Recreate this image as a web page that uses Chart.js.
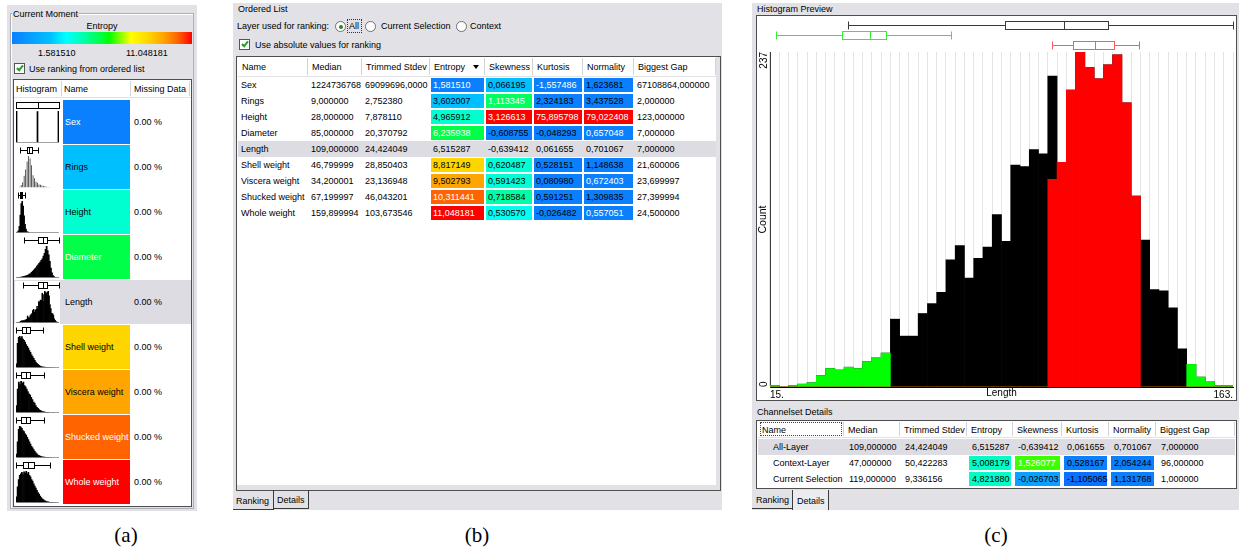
<!DOCTYPE html>
<html>
<head>
<meta charset="utf-8">
<title>Channel statistics</title>
<script src="https://cdn.jsdelivr.net/npm/chart.js@4.4.1/dist/chart.umd.min.js"></script>
<style>
  * { box-sizing: border-box; }
  html, body { margin: 0; padding: 0; }
  body { width: 1239px; height: 550px; position: relative; overflow: hidden; background: #fff;
         font-family: "Liberation Sans", Arial, sans-serif; font-size: 9px; color: #000; }
  .a { position: absolute; }
  .t { position: absolute; white-space: nowrap; height: 12px; line-height: 12px; }
  .cap { position: absolute; top: 522px; width: 60px; height: 26px; line-height: 26px; text-align: center;
         font-family: "Liberation Serif", "Times New Roman", serif; font-size: 21px; }
  canvas { position: absolute; display: block; background: #fff; }
</style>
</head>
<body>
<script>
// ---------------- Ordered List (ranking of channels) ----------------
const rankNames     = ['Sex', 'Rings', 'Height', 'Diameter', 'Length', 'Shell weight', 'Viscera weight', 'Shucked weight', 'Whole weight'];
const rankMedian    = ['1224736768', '9,000000', '28,000000', '85,000000', '109,000000', '46,799999', '34,200001', '67,199997', '159,899994'];
const rankStdev     = ['69099696,0000', '2,752380', '7,878110', '20,370792', '24,424049', '28,850403', '23,136948', '46,043201', '103,673546'];
const rankEntropy   = ['1,581510', '3,602007', '4,965912', '6,235938', '6,515287', '8,817149', '9,502793', '10,311441', '11,048181'];
const rankSkewness  = ['0,066195', '1,113345', '3,126613', '-0,608755', '-0,639412', '0,620487', '0,591423', '0,718584', '0,530570'];
const rankKurtosis  = ['-1,557486', '2,324183', '75,895798', '-0,048293', '0,061655', '0,528151', '0,080980', '0,591251', '-0,026482'];
const rankNormality = ['1,623681', '3,437528', '79,022408', '0,657048', '0,701067', '1,148638', '0,672403', '1,309835', '0,557051'];
const rankGap       = ['67108864,000000', '2,000000', '123,000000', '7,000000', '7,000000', '21,600006', '23,699997', '27,399994', '24,500000'];
const rankMissing   = ['0.00 %', '0.00 %', '0.00 %', '0.00 %', '0.00 %', '0.00 %', '0.00 %', '0.00 %', '0.00 %'];

// colour-coded cells (null = layer row without colouring)
const entropyFill = ['#0a80ff', '#00bfff', '#00ffd0', '#00ff48', null, '#ffd500', '#ffa500', '#ff6400', '#ff0000'];
const entropyInk  = ['#fff', '#000', '#000', '#fff', '#000', '#000', '#000', '#fff', '#fff'];
const skewFill    = ['#00c0ff', '#00ff60', '#ff0000', '#0a80ff', null, '#00ffd4', '#00ffd4', '#00ffa4', '#00fff0'];
const skewInk     = ['#000', '#fff', '#fff', '#000', '#000', '#000', '#000', '#000', '#000'];
const kurtFill    = ['#0a80ff', '#0a80ff', '#ff0000', '#0a80ff', null, '#0a80ff', '#0a80ff', '#0a80ff', '#0a80ff'];
const kurtInk     = ['#fff', '#000', '#fff', '#000', '#000', '#000', '#000', '#000', '#000'];
const normFill    = ['#0a80ff', '#0a80ff', '#ff0000', '#0a80ff', null, '#0a80ff', '#0a80ff', '#0a80ff', '#0a80ff'];
const normInk     = ['#000', '#000', '#fff', '#fff', '#000', '#000', '#fff', '#000', '#fff'];
const selectedRow = 4;

const entropyScaleLabels = ['1.581510', '11.048181'];

// ---------------- Channelset Details ----------------
const detailNames     = ['All-Layer', 'Context-Layer', 'Current Selection'];
const detailMedian    = ['109,000000', '47,000000', '119,000000'];
const detailStdev     = ['24,424049', '50,422283', '9,336156'];
const detailEntropy   = ['6,515287', '5,008179', '4,821880'];
const detailSkewness  = ['-0,639412', '1,526077', '-0,026703'];
const detailKurtosis  = ['0,061655', '0,528167', '-1,105065'];
const detailNormality = ['0,701067', '2,054244', '1,131768'];
const detailGap       = ['7,000000', '96,000000', '1,000000'];
const detailEntropyFill = [null, '#00ffc8', '#00ffc8'];
const detailSkewFill    = [null, '#3cff00', '#0aa0ff'];
const detailSkewInk     = ['#000', '#fff', '#000'];
const detailKurtFill    = [null, '#0a80ff', '#0a70ff'];
const detailNormFill    = [null, '#0a80ff', '#0a80ff'];

const tableHeaders = ['Name', 'Median', 'Trimmed Stdev', 'Entropy', 'Skewness', 'Kurtosis', 'Normality', 'Biggest Gap'];

// ---------------- Length histogram (50 bins) ----------------
const lengthRange = [15, 163];
const countTicks = [0, 237];
const lengthAll = [1, 0, 1, 2, 3, 8, 13, 12, 14, 13, 18, 21, 24, 48, 36, 36, 52, 59, 67, 90,
                   100, 77, 91, 99, 122, 103, 157, 156, 168, 165, 220, 159, 210, 237, 226, 218, 228, 235, 201, 135,
                   104, 69, 68, 56, 27, 16, 7, 4, 1, 1];
const lengthContext = [1, 0, 1, 2, 3, 8, 13, 12, 14, 13, 18, 21, 24, 0, 0, 0, 0, 0, 0, 0,
                       0, 0, 0, 0, 0, 0, 0, 0, 0, 0, 0, 0, 0, 0, 0, 0, 0, 0, 0, 0,
                       0, 0, 0, 0, 0, 16, 7, 4, 1, 1];
const lengthSelection = [0, 0, 0, 0, 0, 0, 0, 0, 0, 0, 0, 0, 0, 0, 0, 0, 0, 0, 0, 0,
                         0, 0, 0, 0, 0, 0, 0, 0, 0, 0, 147, 159, 210, 237, 226, 218, 228, 235, 201, 135,
                         0, 0, 0, 0, 0, 0, 0, 0, 0, 0];
// five-number summaries: lower whisker, Q1, median, Q3, upper whisker
const lengthBoxAll       = [40, 90, 109, 123, 163];
const lengthBoxContext   = [17, 38, 47, 52, 73];
const lengthBoxSelection = [105, 112, 119, 125, 133];

// ---------------- per-channel thumbnail histograms ----------------
const sexCounts = [1340, 0, 0, 0, 0, 0, 0, 0, 0, 0, 0, 0, 0, 0, 0, 0, 0, 0, 0, 0,
                   1320, 0, 0, 0, 0, 0, 0, 0, 0, 0, 0, 0, 0, 0, 0, 0, 0, 0, 0, 0, 1330];
const sexRange = [0, 2];
const sexBox = [0, 0, 1, 2, 2];

const ringsCounts = [1, 1, 15, 57, 115, 259, 391, 568, 689, 634, 487, 267, 203, 126, 103, 67, 58, 42, 32, 26,
                     14, 6, 9, 2, 1, 1, 2, 0, 1];
const ringsRange = [0.5, 29.5];
const ringsBox = [3.5, 8, 9, 11, 15.5];

const heightCounts = [3, 10, 40, 150, 420, 700, 760, 640, 400, 200, 80, 25, 8, 3, 1, 0, 0, 0, 0, 0,
                      1, 0, 0, 0, 0, 0, 0, 0, 0, 0, 0, 0, 0, 0, 0, 0, 0, 0, 0, 0, 0, 0, 0, 0, 1];
const heightRange = [0, 225];
const heightBox = [8, 23, 28, 33, 48];

const diameterCounts = [1, 1, 1, 2, 3, 4, 6, 8, 10, 13, 16, 20, 25, 30, 38, 46, 55, 64, 72, 85,
                        95, 105, 115, 128, 140, 160, 180, 210, 235, 200, 170, 120, 70, 35, 15, 6, 2, 1, 0, 1];
const diameterRange = [10, 130];
const diameterBox = [31, 70, 85, 96, 130];

const shellCounts = [30, 200, 250, 260, 240, 255, 235, 225, 210, 190, 175, 160, 140, 125, 105, 90, 75, 60, 45, 35,
                     26, 18, 12, 8, 6, 4, 3, 2, 1, 1, 1, 0, 1, 0, 0, 1, 0, 0, 0, 1];
const shellRange = [0, 200];
const shellBox = [0.3, 26, 46.8, 65.8, 125];

const visceraCounts = [60, 200, 260, 240, 270, 250, 260, 230, 220, 200, 180, 160, 150, 130, 110, 90, 80, 60, 45, 35,
                       25, 18, 12, 8, 5, 3, 2, 1, 1, 1, 0, 0, 1, 0, 0, 0, 0, 1];
const visceraRange = [0, 152];
const visceraBox = [0.1, 18.6, 34.2, 50.6, 98];

const shuckedCounts = [30, 140, 250, 280, 270, 260, 240, 230, 210, 200, 180, 160, 140, 120, 100, 85, 70, 55, 42, 32,
                       22, 16, 12, 8, 5, 4, 3, 2, 1, 1, 1, 0, 1, 0, 0, 0, 0, 0, 0, 1];
const shuckedRange = [0, 297];
const shuckedBox = [0.2, 37, 67, 96, 195];

const wholeCounts = [40, 110, 160, 190, 200, 210, 195, 215, 205, 220, 200, 210, 190, 180, 160, 150, 130, 115, 100, 85,
                     70, 58, 45, 35, 26, 20, 14, 10, 7, 5, 3, 2, 2, 1, 1, 0, 1, 0, 0, 1];
const wholeRange = [0, 565];
const wholeBox = [0.4, 88, 160, 231, 444];

// ======================================================================
const FONT = '"Liberation Sans", Arial, sans-serif';
const PANEL_BG = '#e1e1e6';
Chart.defaults.font.family = FONT;

function el(tag, cls, css, txt) {
  const e = document.createElement(tag);
  if (cls) e.className = cls;
  Object.assign(e.style, css || {});
  if (txt != null) e.textContent = txt;
  document.body.appendChild(e);
  return e;
}
function box(x, y, w, h, css) {
  return el('div', 'a', Object.assign({ left: x + 'px', top: y + 'px', width: w + 'px', height: h + 'px' }, css || {}));
}
function text(x, yCenter, s, css) {
  return el('div', 't', Object.assign({ left: x + 'px', top: (yCenter - 6) + 'px' }, css || {}), s);
}
function checkbox(x, y) {
  box(x, y, 11, 11, { background: '#fff', border: '1px solid #555' });
  box(x + 3.5, y + 1, 4, 7, { borderRight: '2px solid #22a022', borderBottom: '2px solid #22a022', transform: 'rotate(40deg)' });
}
function radio(x, y, on) {
  box(x, y, 11, 11, { background: '#fff', border: '1px solid #707070', borderRadius: '50%' });
  if (on) box(x + 3.5, y + 3.5, 4, 4, { background: '#2f7d2f', borderRadius: '50%' });
}
function tableFrame(x, y, w, h) {
  box(x, y, w, h, { border: '1px solid #4e4e4e', background: '#fff' });
}
function buildTable(cfg) {
  const { cols, headTop, headH, rowTop, rowH, rows, highlight, headPad, cellPad, inset, nameIndent } = cfg;
  const x0 = cols[0], x1 = cols[cols.length - 1];
  tableHeaders.forEach((h, c) => text(cols[c] + headPad, headTop + headH / 2, h));
  for (let c = 1; c < cols.length; c++) box(cols[c] - 1, headTop + 1, 1, headH - 3, { background: '#d3d3d8' });
  box(x0, headTop + headH - 1, x1 - x0, 1, { background: '#e2e2e6' });
  rows.forEach((r, i) => {
    const y = rowTop + i * rowH;
    if (i === highlight) box(x0, y, x1 - x0, rowH, { background: '#dcdce2' });
    r.forEach((cell, c) => {
      const a = cols[c], b = cols[c + 1];
      if (cell.fill) box(a + inset, y + 1, b - a - 2 * inset, rowH - 2, { background: cell.fill });
      text(a + (c === 0 ? nameIndent : cellPad), y + rowH / 2, cell.t, { color: cell.ink || '#000' });
    });
  });
}

// box plots drawn through a linear value scale of the chart
function boxPlotPlugin(boxes, scaleId) {
  return {
    id: 'boxPlots',
    afterDatasetsDraw(chart) {
      const sc = chart.scales[scaleId];
      const ctx = chart.ctx;
      const px = v => Math.round(sc.getPixelForValue(v)) + 0.5;
      boxes.forEach(b => {
        const [lo, q1, med, q3, hi] = b.values;
        const y = b.y, h = b.half;
        ctx.save();
        ctx.strokeStyle = b.color;
        ctx.lineWidth = 1;
        ctx.beginPath();
        ctx.moveTo(px(lo), y); ctx.lineTo(px(q1), y);
        ctx.moveTo(px(q3), y); ctx.lineTo(px(hi), y);
        ctx.moveTo(px(lo), y - h); ctx.lineTo(px(lo), y + h);
        ctx.moveTo(px(hi), y - h); ctx.lineTo(px(hi), y + h);
        ctx.stroke();
        ctx.fillStyle = '#fff';
        ctx.fillRect(px(q1), y - h, px(q3) - px(q1), 2 * h);
        ctx.strokeRect(px(q1), y - h, px(q3) - px(q1), 2 * h);
        ctx.beginPath();
        ctx.moveTo(px(med), y - h); ctx.lineTo(px(med), y + h);
        ctx.stroke();
        ctx.restore();
      });
    }
  };
}

// rotated end labels of the count axis
const countLabels = {
  id: 'countLabels',
  afterDraw(chart) {
    const s = chart.scales.y, ctx = chart.ctx;
    ctx.save();
    ctx.font = '10px ' + FONT;
    ctx.fillStyle = '#000';
    ctx.textBaseline = 'middle';
    s.ticks.forEach(t => {
      ctx.save();
      ctx.translate(7, s.getPixelForValue(t.value));
      ctx.rotate(-Math.PI / 2);
      ctx.textAlign = t.value === s.max ? 'right' : 'left';
      ctx.fillText(String(t.value), 0, 0);
      ctx.restore();
    });
    ctx.restore();
  }
};

// ======================= panel (a): Current Moment =======================
box(7, 5, 190, 506, { background: PANEL_BG });
box(10, 13, 184, 496, { border: '1px solid #aeaeb6', boxShadow: 'inset 1px 1px 0 #fff' });
text(12, 13.5, 'Current Moment', { background: PANEL_BG, padding: '0 1px' });
el('div', 't', { left: '12px', top: '20px', width: '180px', textAlign: 'center' }, 'Entropy');
box(12, 32, 180, 12, { background: 'linear-gradient(to right, #0a80ff 0%, #00bfff 21%, #00ffff 30%, #00ffd0 36%, #00ff48 49%, #00ff00 54%, #ffff00 66%, #ffd500 76%, #ffa500 84%, #ff6400 92%, #ff0000 100%)' });
text(38, 53, entropyScaleLabels[0]);
text(126, 53, entropyScaleLabels[1]);
checkbox(14, 63);
text(29, 69, 'Use ranking from ordered list');

tableFrame(13, 79, 179, 428);
text(16, 89, 'Histogram');
text(64, 89, 'Name');
text(134, 89, 'Missing Data');
[61, 130, 189].forEach(x => box(x, 81, 1, 15, { background: '#d3d3d8' }));
box(14, 97, 177, 1, { background: '#e2e2e6' });

const thumbs = [
  { counts: sexCounts, range: sexRange, box: sexBox },
  { counts: ringsCounts, range: ringsRange, box: ringsBox, color: '#3a3a3a', barPct: 0.55 },
  { counts: heightCounts, range: heightRange, box: heightBox },
  { counts: diameterCounts, range: diameterRange, box: diameterBox },
  { counts: lengthAll, range: lengthRange, box: lengthBoxAll },
  { counts: shellCounts, range: shellRange, box: shellBox },
  { counts: visceraCounts, range: visceraRange, box: visceraBox },
  { counts: shuckedCounts, range: shuckedRange, box: shuckedBox },
  { counts: wholeCounts, range: wholeRange, box: wholeBox }
];

rankNames.forEach((name, i) => {
  const top = 100 + i * 45;
  if (i === selectedRow) box(14, top, 177, 44, { background: '#dcdce2' });
  if (entropyFill[i]) box(63, top, 67, 44, { background: entropyFill[i] });
  text(65, top + 22, name, { color: entropyFill[i] ? entropyInk[i] : '#000' });
  text(134, top + 22, rankMissing[i]);

  const cv = el('canvas', null, { left: '15px', top: (top + 1) + 'px' });
  cv.width = 45; cv.height = 43;
  const t = thumbs[i];
  new Chart(cv, {
    type: 'bar',
    data: {
      labels: t.counts.map((_, k) => k),
      datasets: [{ data: t.counts, backgroundColor: t.color || '#000', borderWidth: 0,
                   barPercentage: t.barPct || 1, categoryPercentage: 1 }]
    },
    options: {
      responsive: false, animation: false, events: [],
      layout: { padding: { top: 10, bottom: 1.5, left: 1, right: 1 } },
      plugins: { legend: { display: false }, tooltip: { enabled: false } },
      scales: {
        x: { display: false },
        xv: { type: 'linear', display: false, offset: false, min: t.range[0], max: t.range[1] },
        y: { display: false, min: 0, max: Math.max(...t.counts) }
      }
    },
    plugins: [boxPlotPlugin([{ values: t.box, color: '#000', y: 4.5, half: 3 }], 'xv')]
  });
});

// ======================= panel (b): Ordered List =======================
box(233, 3, 489, 507, { background: PANEL_BG });
text(238, 9, 'Ordered List');
text(237, 26, 'Layer used for ranking:');
radio(335, 21, true);
box(347, 19, 15, 14, { border: '1px dotted #333' });
text(349, 26, 'All');
radio(365, 21, false);
text(381, 26, 'Current Selection');
radio(456, 21, false);
text(470, 26, 'Context');
checkbox(239, 39);
text(255, 44.5, 'Use absolute values for ranking');

box(236, 56, 485, 435, { border: '1px solid #4e4e4e', background: PANEL_BG });
box(237, 57, 479, 428, { background: '#fff' });
buildTable({
  cols: [238, 308, 362, 430, 485, 533, 583, 634, 716],
  headTop: 57, headH: 20, rowTop: 77, rowH: 16,
  headPad: 4, cellPad: 3, inset: 1, nameIndent: 3, highlight: selectedRow,
  rows: rankNames.map((n, i) => [
    { t: n }, { t: rankMedian[i] }, { t: rankStdev[i] },
    { t: rankEntropy[i], fill: entropyFill[i], ink: entropyInk[i] },
    { t: rankSkewness[i], fill: skewFill[i], ink: skewInk[i] },
    { t: rankKurtosis[i], fill: kurtFill[i], ink: kurtInk[i] },
    { t: rankNormality[i], fill: normFill[i], ink: normInk[i] },
    { t: rankGap[i] }
  ])
});
box(473, 65, 0, 0, { borderLeft: '3px solid transparent', borderRight: '3px solid transparent', borderTop: '4px solid #000' });

box(233, 490, 41, 20, { borderRight: '1px solid #3a3a3a', borderBottom: '1px solid #3a3a3a' });
text(236, 501, 'Ranking');
box(273, 490, 36, 19, { border: '1px solid #3a3a3a', borderTop: 'none' });
text(277, 500, 'Details');

// ======================= panel (c): Histogram Preview + Details =======================
box(752, 3, 487, 507, { background: PANEL_BG });
text(757, 9, 'Histogram Preview');
box(756, 15, 481, 386, { border: '1px solid #4e4e4e', background: '#fff' });

const main = el('canvas', null, { left: '757px', top: '16px' });
main.width = 479; main.height = 383;
new Chart(main, {
  type: 'bar',
  data: {
    labels: lengthAll.map((_, k) => k),
    datasets: [
      { label: 'Current Selection', data: lengthSelection, backgroundColor: '#ff0000' },
      { label: 'Context-Layer', data: lengthContext, backgroundColor: '#00ff00' },
      { label: 'All-Layer', data: lengthAll, backgroundColor: '#000000' }
    ]
  },
  options: {
    responsive: false, animation: false, events: [],
    layout: { padding: { top: 36, right: 3, left: 0, bottom: 0 } },
    datasets: { bar: { barPercentage: 1, categoryPercentage: 1, borderWidth: 0 } },
    plugins: { legend: { display: false }, tooltip: { enabled: false } },
    scales: {
      x: {
        type: 'category', position: 'bottom', stacked: true,
        ticks: { display: false },
        grid: { offset: true, color: '#e4e4e4', lineWidth: 1, drawTicks: false },
        border: { display: false },
        afterFit(s) { s.height = 0; }
      },
      xv: {
        type: 'linear', position: 'bottom', offset: false, min: lengthRange[0], max: lengthRange[1],
        afterBuildTicks(s) { s.ticks = lengthRange.map(v => ({ value: v })); },
        ticks: { align: 'inner', padding: 2, color: '#000', font: { size: 10 }, callback: v => v + '.' },
        grid: { display: false, drawTicks: false, offset: false },
        border: { display: true, color: '#000' },
        title: { display: true, text: 'Length', padding: 0, color: '#000', font: { size: 10 } },
        afterFit(s) { s.height = 12; }
      },
      y: {
        min: countTicks[0], max: countTicks[1],
        afterBuildTicks(s) { s.ticks = countTicks.map(v => ({ value: v })); },
        ticks: { display: false },
        grid: { display: false, drawTicks: false },
        border: { display: true, color: '#3a3a3a' },
        title: { display: true, text: 'Count', padding: 0, color: '#000', font: { size: 10.5 } },
        afterFit(s) { s.width = 13; }
      }
    }
  },
  plugins: [
    boxPlotPlugin([
      { values: lengthBoxAll, color: '#3a3a3a', y: 9.5, half: 4 },
      { values: lengthBoxContext, color: '#30ee30', y: 19.5, half: 4 },
      { values: lengthBoxSelection, color: '#ff5a5a', y: 29.5, half: 4 }
    ], 'xv'),
    countLabels
  ]
});

text(757, 412, 'Channelset Details');
tableFrame(756, 420, 481, 69);
buildTable({
  cols: [758, 844, 900, 967, 1013, 1062, 1109, 1156, 1235],
  headTop: 421, headH: 17, rowTop: 439, rowH: 16,
  headPad: 4, cellPad: 5, inset: 2, nameIndent: 15, highlight: 0,
  rows: detailNames.map((n, i) => [
    { t: n }, { t: detailMedian[i] }, { t: detailStdev[i] },
    { t: detailEntropy[i], fill: detailEntropyFill[i] },
    { t: detailSkewness[i], fill: detailSkewFill[i], ink: detailSkewInk[i] },
    { t: detailKurtosis[i], fill: detailKurtFill[i] },
    { t: detailNormality[i], fill: detailNormFill[i] },
    { t: detailGap[i] }
  ])
});
box(760, 422, 82, 14, { border: '1px dotted #444' });

box(752, 490, 41, 19, { borderRight: '1px solid #3a3a3a', borderBottom: '1px solid #3a3a3a' });
text(756, 500, 'Ranking');
box(792, 490, 37, 20, { borderLeft: '1px solid #3a3a3a', borderRight: '1px solid #3a3a3a', background: '#ececf0' });
text(797, 501, 'Details');

// ======================= captions =======================
el('div', 'cap', { left: '96px' }, '(a)');
el('div', 'cap', { left: '447px' }, '(b)');
el('div', 'cap', { left: '966px' }, '(c)');
</script>
</body>
</html>
